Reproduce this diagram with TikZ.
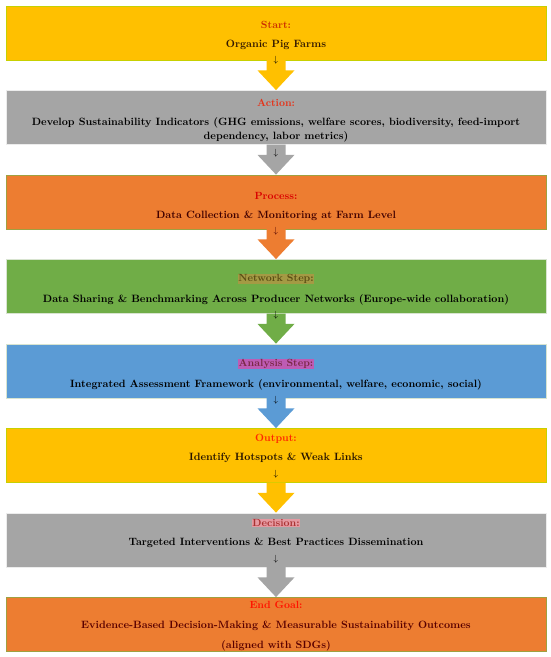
\documentclass[tikz,border=0pt]{standalone}
\usetikzlibrary{calc}
\definecolor{boxyellow}{HTML}{FFC000}
\definecolor{boxgray}{HTML}{A5A5A5}
\definecolor{boxorange}{HTML}{ED7D31}
\definecolor{boxgreen}{HTML}{70AD47}
\definecolor{boxblue}{HTML}{5B9BD5}
\definecolor{edgeyellow}{HTML}{C8D000}
\definecolor{edgeolive}{HTML}{A0A040}
\definecolor{edgelight}{HTML}{D8E4D0}
\definecolor{hlolive}{HTML}{A49A44}
\definecolor{hlmagenta}{HTML}{BE5CB4}
\definecolor{hlpink}{HTML}{E69AA2}
\definecolor{txtolive}{HTML}{5A4E14}
\definecolor{txtplum}{HTML}{7A2846}
\definecolor{txtbrick}{HTML}{AA3232}
\tikzset{
	box/.style={rectangle,minimum width=540pt,minimum height=54pt,line width=0.8pt},
	title/.style={font=\fontsize{10.4}{12}\selectfont\bfseries,inner sep=0.6pt},
	body/.style={font=\fontsize{10.6}{14}\selectfont\bfseries,align=center,inner sep=0pt},
	down/.style={font=\small,inner sep=0pt}
}
\begin{document}
\begin{tikzpicture}[x=1pt,y=-1pt]
			\useasboundingbox (0,0) rectangle (550,657);
			% boxes
			\node (b1) at (276,33) [box,fill=boxyellow,draw=edgeyellow] {};
			\node (b2) at (276,117.5) [box,fill=boxgray,draw=white!85!gray] {};
			\node (b3) at (276,202) [box,fill=boxorange,draw=edgeolive] {};
			\node (b4) at (276,286.5) [box,fill=boxgreen,draw=edgelight] {};
			\node (b5) at (276,371) [box,fill=boxblue,draw=edgelight] {};
			\node (b6) at (276,455.5) [box,fill=boxyellow,draw=edgeyellow] {};
			\node (b7) at (276,540) [box,fill=boxgray,draw=white!85!gray] {};
			\node (b8) at (276,624.5) [box,fill=boxorange,draw=edgeolive] {};
			% block arrows
			\foreach \a/\b/\c in {b1/b2/boxyellow,b2/b3/boxgray,b3/b4/boxorange,b4/b5/boxgreen,b5/b6/boxblue,b6/b7/boxyellow,b7/b8/boxgray}
			{
				\fill [\c] ($(\a.south)+(-9.5,-0.4)$) -- ($(\a.south)+(-9.5,10)$) -- ($(\a.south)+(-18.5,10)$) -- (\b.north)
					-- ($(\a.south)+(18.5,10)$) -- ($(\a.south)+(9.5,10)$) -- ($(\a.south)+(9.5,-0.4)$) -- cycle;
			}
			% texts
			\node (t1) at (276,25) [title,text=red!55!orange!80!black] {Start:};
			\node (m1) at (276,45) [body,text=black!80!orange] {Organic Pig Farms};
			\node (d1) at (276,60) [down] {$\downarrow$};
			\node (t2) at (276,103) [title,text=red!60!brown] {Action:};
			\node (m2) at (276,130) [body] {Develop Sustainability Indicators (GHG emissions, welfare scores, biodiversity, feed-import\\dependency, labor metrics)};
			\node (d2) at (276,153) [down] {$\downarrow$};
			\node (t3) at (276,196) [title,text=red!85!black] {Process:};
			\node (m3) at (276,216) [body,text=black!75!red] {Data Collection \& Monitoring at Farm Level};
			\node (d3) at (276,231) [down,text=black!70!red] {$\downarrow$};
			\node (t4) at (276,279) [title,fill=hlolive,text=txtolive] {Network Step:};
			\node (m4) at (276,300) [body] {Data Sharing \& Benchmarking Across Producer Networks (Europe-wide collaboration)};
			\node (d4) at (276,315) [down] {$\downarrow$};
			\node (t5) at (276,364) [title,fill=hlmagenta,text=txtplum] {Analysis Step:};
			\node (m5) at (276,385) [body] {Integrated Assessment Framework (environmental, welfare, economic, social)};
			\node (d5) at (276,400) [down] {$\downarrow$};
			\node (t6) at (276,439) [title,text=red!70!orange] {Output:};
			\node (m6) at (276,458) [body,text=black!85!orange] {Identify Hotspots \& Weak Links};
			\node (d6) at (276,474) [down] {$\downarrow$};
			\node (t7) at (276,523) [title,fill=hlpink,text=txtbrick] {Decision:};
			\node (m7) at (276,543) [body] {Targeted Interventions \& Best Practices Dissemination};
			\node (d7) at (276,559) [down] {$\downarrow$};
			\node (t8) at (276,605) [title,text=red!85!orange] {End Goal:};
			\node (m8) at (276,626) [body,text=black!65!red] {Evidence-Based Decision-Making \& Measurable Sustainability Outcomes};
			\node (l8) at (276,646) [body,text=black!65!red] {(aligned with SDGs)};
		\end{tikzpicture}
\end{document}
